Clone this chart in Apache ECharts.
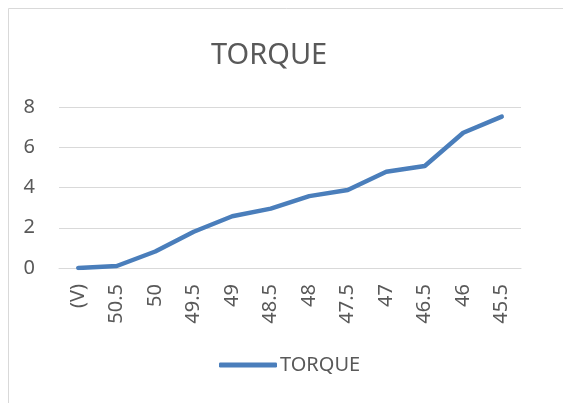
<!DOCTYPE html>
<html>
<head>
<meta charset="utf-8">
<script src="https://cdn.jsdelivr.net/npm/echarts@6/dist/echarts.min.js"></script>
<style>
  html, body { margin: 0; padding: 0; background: #fff; }
  #main { width: 563px; height: 403px; }
</style>
</head>
<body>
<div id="main"></div>
<script>
// x categories (voltage) and torque values
const categories = ['(V)', '50.5', '50', '49.5', '49', '48.5', '48', '47.5', '47', '46.5', '46', '45.5'];
const torque = [0, 0.1, 0.82, 1.8, 2.57, 2.95, 3.57, 3.88, 4.78, 5.07, 6.72, 7.52];
const seriesName = 'TORQUE';

const textColor = '#595959';
const gridColor = '#d9d9d9';
const lineColor = '#4a7ebb';
const font = '"Noto Sans", sans-serif';

const myChart = echarts.init(document.getElementById('main'));
const option = {
    backgroundColor: '#fff',
    animation: false,
    textStyle: { fontFamily: font },
    title: {
        text: 'TORQUE',
        left: 206,
        top: 36,
        textStyle: { color: textColor, fontSize: 29, fontWeight: 'normal', fontFamily: font }
    },
    graphic: [{
        type: 'rect',
        shape: { x: 8.5, y: 8.5, width: 600, height: 500 },
        style: { fill: 'none', stroke: gridColor, lineWidth: 1 },
        silent: true
    }],
    grid: { left: 59, right: 42, top: 107, bottom: 135 },
    legend: {
        data: [{ name: seriesName, icon: 'roundRect' }],
        bottom: 23,
        left: 214,
        itemWidth: 58,
        itemHeight: 5,
        itemGap: 4,
        textStyle: { color: textColor, fontSize: 20, fontFamily: font, padding: [0, 0, 0, -2] }
    },
    xAxis: {
        type: 'category',
        data: categories,
        boundaryGap: true,
        axisLine: { lineStyle: { color: gridColor, width: 1 } },
        axisTick: { show: false },
        axisLabel: { color: textColor, fontSize: 20, rotate: 90, margin: 16, interval: 0, fontFamily: font }
    },
    yAxis: {
        type: 'value',
        min: 0,
        max: 8,
        interval: 2,
        axisLine: { show: false },
        axisTick: { show: false },
        splitLine: { lineStyle: { color: gridColor, width: 1 } },
        axisLabel: { color: textColor, fontSize: 20, margin: 24, fontFamily: font }
    },
    series: [{
        name: seriesName,
        type: 'line',
        data: torque,
        symbol: 'none',
        lineStyle: { color: lineColor, width: 4.5, cap: 'round', join: 'round' },
        itemStyle: { color: lineColor }
    }]
};
myChart.setOption(option);
window.addEventListener('resize', () => { myChart.resize(); });
</script>
</body>
</html>
